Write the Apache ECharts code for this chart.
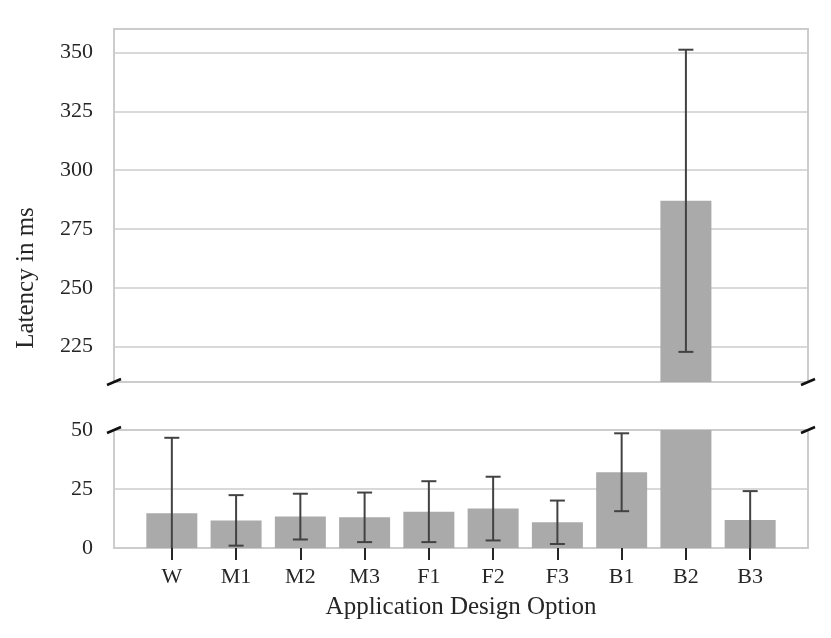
<!DOCTYPE html>
<html>
<head>
<meta charset="utf-8">
<script src="https://cdn.jsdelivr.net/npm/echarts@6/dist/echarts.min.js"></script>
<style>
  html, body { margin: 0; padding: 0; background: #fff; }
  #chart { width: 831px; height: 638px; }
</style>
</head>
<body>
<div id="chart"></div>
<script>
'use strict';

// data
const categories = ['W', 'M1', 'M2', 'M3', 'F1', 'F2', 'F3', 'B1', 'B2', 'B3'];
const latency = [14.7, 11.7, 13.3, 13.0, 15.4, 16.7, 10.9, 32.1, 287, 11.9];
const errors = [32.0, 10.7, 9.7, 10.5, 12.9, 13.5, 9.2, 16.5, 64.2, 12.2];
const topTicks = [225, 250, 275, 300, 325, 350];
const bottomTicks = [0, 25, 50];

const FONT = 'Liberation Serif';
const TEXT = '#262626';
const GRIDC = '#cccccc';
const BAR = '#aaaaaa';
const ERR = '#424242';

const chart = echarts.init(document.getElementById('chart'));

const barData = categories.map((c, i) => [i, latency[i]]);
const errData = categories.map((c, i) => [i, latency[i], errors[i]]);

function renderErrorBar(params, api) {
  const x = api.value(0), m = api.value(1), e = api.value(2);
  const hi = api.coord([x, m + e]);
  const lo = api.coord([x, m - e]);
  const cs = params.coordSys;
  const top = cs.y, bot = cs.y + cs.height;
  if (lo[1] < top || hi[1] > bot) return null;
  const y1 = Math.max(hi[1], top), y2 = Math.min(lo[1], bot);
  const style = { stroke: ERR, lineWidth: 2 };
  const children = [{ type: 'line', shape: { x1: hi[0], y1: y1, x2: hi[0], y2: y2 }, style: style }];
  if (hi[1] >= top) {
    children.push({ type: 'line', shape: { x1: hi[0] - 7.5, y1: hi[1], x2: hi[0] + 7.5, y2: hi[1] }, style: style });
  }
  if (lo[1] <= bot) {
    children.push({ type: 'line', shape: { x1: lo[0] - 7.5, y1: lo[1], x2: lo[0] + 7.5, y2: lo[1] }, style: style });
  }
  return { type: 'group', children: children };
}

function xAxis(gridIndex, withLabels) {
  return {
    type: 'value', gridIndex: gridIndex, min: -0.9, max: 9.9,
    axisLine: { show: false },
    splitLine: { show: false },
    axisTick: {
      show: withLabels, customValues: categories.map((c, i) => i),
      length: 12, inside: false,
      lineStyle: { color: TEXT, width: 2 }
    },
    axisLabel: {
      show: withLabels, customValues: categories.map((c, i) => i),
      formatter: v => categories[v], margin: 18,
      fontFamily: FONT, fontSize: 22, color: TEXT
    },
    name: withLabels ? 'Application Design Option' : '',
    nameLocation: 'middle', nameGap: 47,
    nameTextStyle: { fontFamily: FONT, fontSize: 25, color: TEXT }
  };
}

function yAxis(gridIndex, min, max, ticks) {
  return {
    type: 'value', gridIndex: gridIndex, min: min, max: max,
    axisLine: { show: false },
    axisTick: { show: false, customValues: ticks },
    axisLabel: {
      customValues: ticks, margin: 21,
      fontFamily: FONT, fontSize: 22, color: TEXT
    },
    splitLine: { show: true, lineStyle: { color: GRIDC, width: 1.5 } }
  };
}

// little slashes that mark the broken axis
function breakMark(x, y) {
  return {
    type: 'line', z: 100,
    shape: { x1: x - 7, y1: y + 3, x2: x + 7, y2: y - 3 },
    style: { stroke: '#111', lineWidth: 2.5 }
  };
}

const option = {
  animation: false,
  grid: [
    { left: 114, right: 23, top: 29, height: 353, show: true, borderColor: GRIDC, borderWidth: 2 },
    { left: 114, right: 23, top: 430, height: 118, show: true, borderColor: GRIDC, borderWidth: 2 }
  ],
  xAxis: [xAxis(0, false), xAxis(1, true)],
  yAxis: [yAxis(0, 210, 360, topTicks), yAxis(1, 0, 50, bottomTicks)],
  series: [
    { type: 'bar', xAxisIndex: 0, yAxisIndex: 0, data: barData, barWidth: 51, itemStyle: { color: BAR } },
    { type: 'bar', xAxisIndex: 1, yAxisIndex: 1, data: barData, barWidth: 51, itemStyle: { color: BAR } },
    { type: 'custom', xAxisIndex: 0, yAxisIndex: 0, data: errData, renderItem: renderErrorBar, z: 5 },
    { type: 'custom', xAxisIndex: 1, yAxisIndex: 1, data: errData, renderItem: renderErrorBar, z: 5 }
  ],
  graphic: [
    {
      type: 'text', rotation: Math.PI / 2,
      x: 26, y: 278,
      style: { text: 'Latency in ms', fontFamily: FONT, fontSize: 25, fill: TEXT, align: 'center', verticalAlign: 'middle' }
    },
    breakMark(114, 382), breakMark(808, 382),
    breakMark(114, 430), breakMark(808, 430)
  ]
};

chart.setOption(option);
</script>
</body>
</html>
